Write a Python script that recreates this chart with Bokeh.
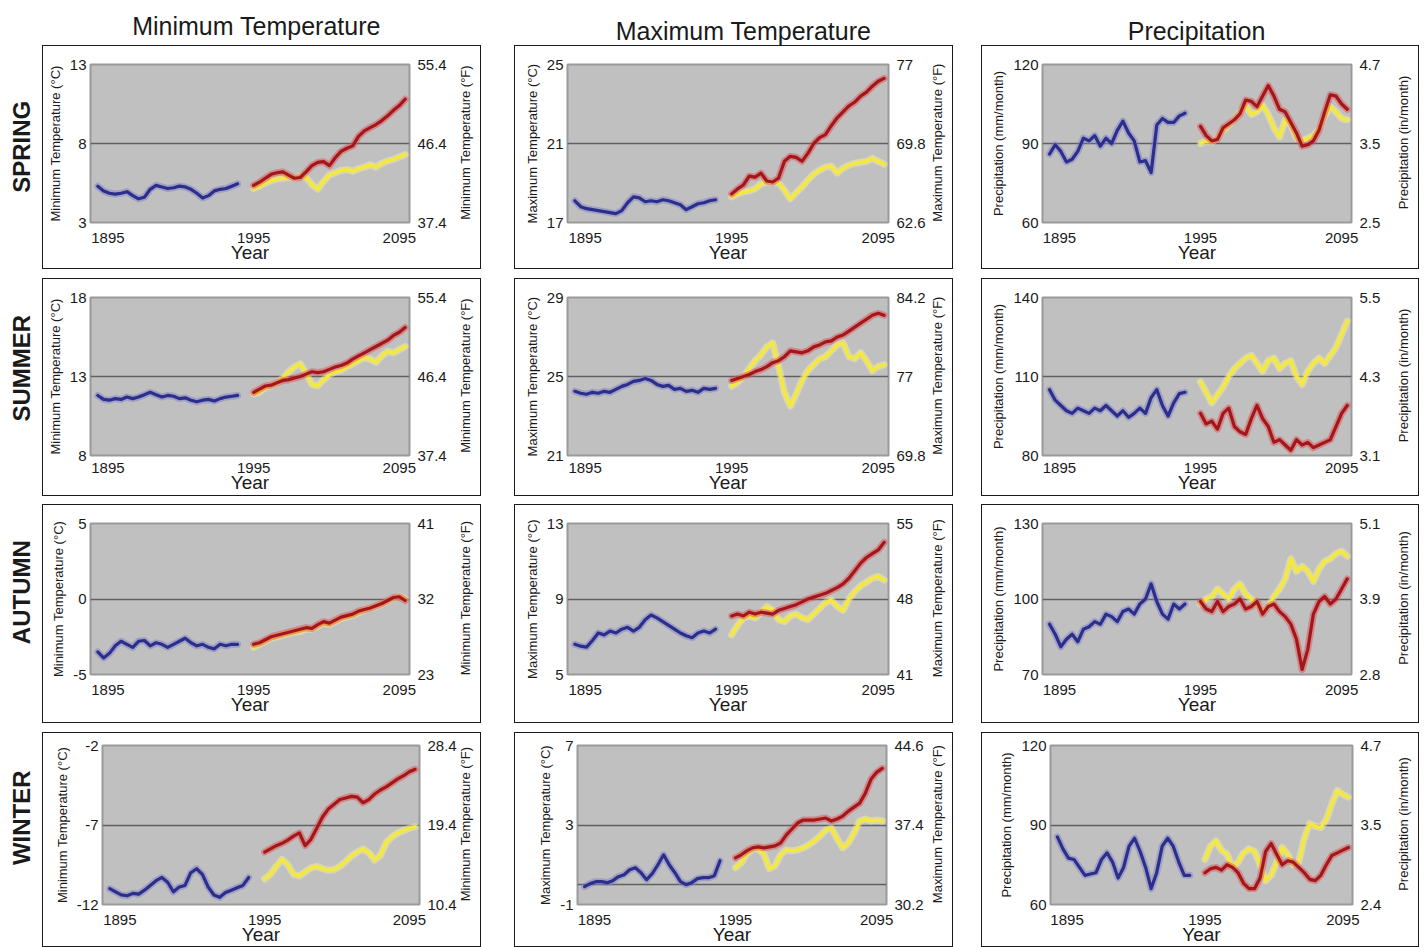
import math
from bokeh.plotting import figure
from bokeh.models import FixedTicker, Range1d, LinearAxis
from bokeh.layouts import row, column
from bokeh.embed import file_html
from bokeh.resources import INLINE
from bokeh.core.properties import value

# ---------------- data ----------------
seasons = ["SPRING", "SUMMER", "AUTUMN", "WINTER"]
variables = ["Minimum Temperature", "Maximum Temperature", "Precipitation"]
x_tick_years = [1895, 1995, 2095]
obs_years = list(range(1888, 1985, 4))
proj_years = list(range(1995, 2100, 4))

spring_tmin_hist = [5.3, 5.0, 4.85, 4.8, 4.85, 4.95, 4.7, 4.5, 4.6, 5.1, 5.35, 5.25, 5.15, 5.2, 5.3, 5.25, 5.1, 4.85, 4.55, 4.7, 5.0, 5.1, 5.15, 5.3, 5.45]
spring_tmin_high = [5.35, 5.55, 5.8, 6.05, 6.15, 6.2, 6.0, 5.8, 5.85, 6.2, 6.6, 6.8, 6.85, 6.6, 7.1, 7.5, 7.7, 7.85, 8.45, 8.8, 9.0, 9.2, 9.45, 9.75, 10.1, 10.4, 10.8]
spring_tmin_low = [5.15, 5.3, 5.5, 5.65, 5.75, 5.8, 5.9, 5.8, 5.95, 5.85, 5.4, 5.1, 5.6, 6.0, 6.15, 6.3, 6.35, 6.25, 6.4, 6.5, 6.65, 6.5, 6.75, 6.9, 7.0, 7.15, 7.3]

spring_tmax_hist = [18.1, 17.8, 17.7, 17.65, 17.6, 17.55, 17.5, 17.45, 17.6, 18.0, 18.3, 18.25, 18.05, 18.1, 18.05, 18.15, 18.1, 18.0, 17.9, 17.65, 17.8, 17.95, 18.0, 18.1, 18.15]
spring_tmax_high = [18.45, 18.7, 18.9, 19.35, 19.3, 19.5, 19.1, 19.05, 19.25, 20.1, 20.35, 20.3, 20.1, 20.5, 21.0, 21.3, 21.45, 21.9, 22.3, 22.6, 22.9, 23.1, 23.4, 23.6, 23.9, 24.15, 24.3]
spring_tmax_low = [18.3, 18.45, 18.55, 18.6, 18.7, 18.95, 19.05, 19.05, 19.0, 18.65, 18.2, 18.5, 18.8, 19.15, 19.45, 19.65, 19.8, 19.85, 19.5, 19.75, 19.9, 20.0, 20.05, 20.1, 20.25, 20.1, 19.95]

spring_prcp_hist = [86, 89.5, 87, 83, 84, 87, 92, 91, 93, 89, 92, 90, 95, 98.5, 94, 91, 83, 83.5, 79, 97, 99.5, 98, 98, 100.5, 101.5]
spring_prcp_high = [96.5, 93, 91, 91.5, 96, 97.5, 99, 101.3, 106.5, 106, 104, 108, 112, 108, 103, 102, 98, 94, 89, 89.5, 91, 95, 102, 108.5, 108, 105, 103]
spring_prcp_low = [90, 91, 90.5, 92, 95, 97, 99, 102, 104.5, 101, 102, 104.5, 101, 96, 92.5, 99, 97, 92, 91, 92, 93, 95.5, 100.5, 104, 102, 99.5, 99]

summer_tmin_hist = [11.8, 11.55, 11.5, 11.6, 11.55, 11.7, 11.6, 11.7, 11.85, 12.0, 11.85, 11.7, 11.8, 11.75, 11.6, 11.65, 11.5, 11.4, 11.5, 11.55, 11.45, 11.6, 11.7, 11.75, 11.8]
summer_tmin_high = [12.0, 12.2, 12.4, 12.45, 12.6, 12.75, 12.8, 12.9, 13.0, 13.15, 13.3, 13.25, 13.3, 13.45, 13.6, 13.7, 13.85, 14.1, 14.3, 14.5, 14.7, 14.9, 15.1, 15.3, 15.6, 15.8, 16.1]
summer_tmin_low = [11.9, 12.0, 12.3, 12.4, 12.6, 12.9, 13.3, 13.6, 13.8, 13.2, 12.5, 12.4, 12.8, 13.1, 13.3, 13.4, 13.6, 13.8, 14.0, 14.2, 14.1, 13.9, 14.3, 14.6, 14.5, 14.7, 14.9]

summer_tmax_hist = [24.25, 24.15, 24.1, 24.2, 24.15, 24.25, 24.2, 24.35, 24.5, 24.6, 24.75, 24.8, 24.9, 24.8, 24.6, 24.5, 24.55, 24.35, 24.4, 24.25, 24.3, 24.2, 24.4, 24.35, 24.4]
summer_tmax_high = [24.8, 24.9, 25.0, 25.1, 25.25, 25.35, 25.5, 25.7, 25.8, 26.0, 26.3, 26.25, 26.2, 26.3, 26.5, 26.6, 26.75, 26.8, 27.0, 27.1, 27.3, 27.5, 27.7, 27.9, 28.1, 28.2, 28.1]
summer_tmax_low = [24.5, 24.7, 25.0, 25.4, 25.8, 26.1, 26.5, 26.7, 25.5, 24.2, 23.5, 24.1, 24.8, 25.3, 25.6, 25.9, 26.0, 26.3, 26.6, 26.7, 26.0, 25.9, 26.2, 25.8, 25.3, 25.5, 25.6]

summer_prcp_hist = [105, 101, 99, 97, 96, 98, 97, 96, 98, 97, 99, 97, 95, 97, 94.5, 96, 98, 96, 102, 105, 99, 95, 100, 103.5, 104]
summer_prcp_high = [96, 92, 93, 90, 96, 98, 91, 89, 88, 94, 99, 94, 91, 85, 86, 84, 82, 86, 84, 85, 83, 84, 85, 86, 91, 96, 99]
summer_prcp_low = [108, 104, 100, 103, 106, 110, 113, 115, 117, 118, 115, 112, 116, 117, 113, 115, 116, 110, 107, 112, 115, 117, 115, 118, 121, 126, 131]

autumn_tmin_hist = [-3.5, -3.9, -3.6, -3.1, -2.8, -3.0, -3.2, -2.8, -2.75, -3.1, -2.9, -3.0, -3.2, -3.0, -2.8, -2.6, -2.9, -3.1, -3.0, -3.2, -3.3, -3.0, -3.1, -3.0, -3.0]
autumn_tmin_high = [-3.0, -2.9, -2.7, -2.5, -2.4, -2.3, -2.2, -2.1, -2.0, -1.9, -1.95, -1.7, -1.5, -1.6, -1.4, -1.2, -1.1, -1.0, -0.8, -0.7, -0.6, -0.45, -0.3, -0.1, 0.1, 0.15, -0.1]
autumn_tmin_low = [-3.2, -3.0, -2.8, -2.6, -2.5, -2.4, -2.3, -2.2, -2.15, -2.0, -2.0, -1.8, -1.6, -1.7, -1.5, -1.3, -1.2, -1.1, -0.9, -0.75, -0.6, -0.5, -0.35, -0.15, 0.05, 0.2, 0.0]

autumn_tmax_hist = [6.6, 6.5, 6.45, 6.8, 7.2, 7.1, 7.3, 7.2, 7.4, 7.5, 7.3, 7.5, 7.9, 8.15, 8.0, 7.8, 7.6, 7.4, 7.2, 7.05, 6.95, 7.2, 7.3, 7.2, 7.4]
autumn_tmax_high = [8.1, 8.2, 8.1, 8.3, 8.2, 8.3, 8.25, 8.2, 8.4, 8.5, 8.6, 8.7, 8.85, 9.0, 9.1, 9.2, 9.3, 9.45, 9.6, 9.8, 10.1, 10.5, 10.9, 11.2, 11.4, 11.6, 12.0]
autumn_tmax_low = [7.1, 7.6, 8.0, 8.1, 8.0, 8.3, 8.6, 8.4, 7.9, 7.8, 8.1, 8.2, 8.0, 7.9, 8.2, 8.5, 8.8, 8.95, 8.6, 8.4, 9.0, 9.4, 9.7, 9.9, 10.1, 10.2, 10.0]

autumn_prcp_hist = [90, 86, 81, 84, 86, 83, 88, 89, 91, 90, 94, 93, 91, 95, 96, 94, 98, 100, 106, 99, 94, 92, 98, 96, 98]
autumn_prcp_high = [99, 96, 95, 99, 95, 97, 98, 100, 96, 97, 99, 94, 97, 98, 95, 93, 90, 84, 72, 80, 94, 99, 101, 98, 100, 104, 108]
autumn_prcp_low = [98, 100, 101, 104, 102, 100, 104, 106, 102, 100, 98, 95, 97, 101, 104, 108, 116, 111, 113, 111, 107, 112, 115, 116, 118, 119, 117]

winter_tmin_hist = [-11.0, -11.2, -11.4, -11.45, -11.3, -11.35, -11.1, -10.8, -10.5, -10.3, -10.6, -11.2, -10.9, -10.8, -10.0, -9.75, -10.1, -10.9, -11.4, -11.55, -11.25, -11.1, -10.95, -10.8, -10.3]
winter_tmin_high = [-8.7, -8.5, -8.3, -8.15, -7.95, -7.7, -7.5, -8.3, -7.9, -7.2, -6.5, -6.0, -5.7, -5.4, -5.3, -5.2, -5.25, -5.6, -5.4, -5.05, -4.8, -4.6, -4.35, -4.1, -3.9, -3.65, -3.5]
winter_tmin_low = [-10.4, -10.1, -9.6, -9.15, -9.5, -10.1, -10.2, -9.95, -9.7, -9.6, -9.75, -9.85, -9.8, -9.6, -9.3, -8.95, -8.7, -8.5, -8.75, -9.2, -8.9, -8.1, -7.75, -7.5, -7.35, -7.2, -7.1]

winter_tmax_hist = [-0.1, 0.05, 0.15, 0.15, 0.1, 0.2, 0.4, 0.5, 0.75, 0.85, 0.6, 0.25, 0.55, 1.0, 1.5, 1.0, 0.6, 0.15, 0.0, 0.1, 0.3, 0.35, 0.35, 0.45, 1.2]
winter_tmax_high = [1.35, 1.5, 1.7, 1.85, 1.9, 1.85, 1.9, 1.95, 2.1, 2.5, 2.8, 3.1, 3.25, 3.25, 3.25, 3.3, 3.35, 3.2, 3.3, 3.45, 3.7, 3.9, 4.1, 4.6, 5.3, 5.65, 5.85]
winter_tmax_low = [0.85, 1.1, 1.55, 1.8, 1.8, 1.55, 0.8, 0.95, 1.5, 1.75, 1.7, 1.75, 1.85, 2.0, 2.2, 2.45, 2.75, 2.85, 2.3, 1.85, 2.1, 2.6, 3.2, 3.3, 3.2, 3.25, 3.2]

winter_prcp_hist = [85.5, 81, 77.5, 77, 74, 71, 71.5, 72, 77, 79.5, 76, 70, 74, 82, 85, 80, 74, 66, 72, 82, 85, 82, 76, 71, 71]
winter_prcp_high = [72, 73.5, 74, 73, 75, 74, 72, 68, 66, 66, 70, 80, 83, 79, 75, 76.5, 76, 74, 72, 69.5, 69, 71, 75, 78.5, 79.5, 80.5, 81.5]
winter_prcp_low = [77, 82, 84, 80.5, 79, 74, 76, 79.5, 81, 80, 75, 69, 71, 76, 81.5, 79, 75, 76, 85, 90.5, 89.5, 89, 92, 98, 103, 101.5, 100.5]

# axis ticks (left, metric) and right-axis labels (imperial)
left_ticks = [
    [[3, 8, 13], [17, 21, 25], [60, 90, 120]],
    [[8, 13, 18], [21, 25, 29], [80, 110, 140]],
    [[-5, 0, 5], [5, 9, 13], [70, 100, 130]],
    [[-12, -7, -2], [-1, 3, 7], [60, 90, 120]],
]
right_labels = [
    [["37.4", "46.4", "55.4"], ["62.6", "69.8", "77"], ["2.5", "3.5", "4.7"]],
    [["37.4", "46.4", "55.4"], ["69.8", "77", "84.2"], ["3.1", "4.3", "5.5"]],
    [["23", "32", "41"], ["41", "48", "55"], ["2.8", "3.9", "5.1"]],
    [["10.4", "19.4", "28.4"], ["30.2", "37.4", "44.6"], ["2.4", "3.5", "4.7"]],
]
ref_lines = [
    [[8], [21], [90]],
    [[13], [25], [110]],
    [[0], [9], [100]],
    [[-7], [3, 0], [90]],
]
left_titles = ["Minimum Temperature (°C)", "Maximum Temperature (°C)", "Precipitation (mm/month)"]
right_titles = ["Minimum Temperature (°F)", "Maximum Temperature (°F)", "Precipitation (in/month)"]

series = {
    (0, 0): (spring_tmin_hist, spring_tmin_high, spring_tmin_low),
    (0, 1): (spring_tmax_hist, spring_tmax_high, spring_tmax_low),
    (0, 2): (spring_prcp_hist, spring_prcp_high, spring_prcp_low),
    (1, 0): (summer_tmin_hist, summer_tmin_high, summer_tmin_low),
    (1, 1): (summer_tmax_hist, summer_tmax_high, summer_tmax_low),
    (1, 2): (summer_prcp_hist, summer_prcp_high, summer_prcp_low),
    (2, 0): (autumn_tmin_hist, autumn_tmin_high, autumn_tmin_low),
    (2, 1): (autumn_tmax_hist, autumn_tmax_high, autumn_tmax_low),
    (2, 2): (autumn_prcp_hist, autumn_prcp_high, autumn_prcp_low),
    (3, 0): (winter_tmin_hist, winter_tmin_high, winter_tmin_low),
    (3, 1): (winter_tmax_hist, winter_tmax_high, winter_tmax_low),
    (3, 2): (winter_prcp_hist, winter_prcp_high, winter_prcp_low),
}

# ---------------- layout / style ----------------
FONT = "Liberation Sans"
col_w = [439, 439, 438]
col_gap = [0, 33, 28]
row_h = [224, 218, 219, 215]
row_gap = [0, 9, 8, 9]
frame_lr = [
    [(48, 74), (53, 67), (61, 70)],
    [(48, 74), (53, 67), (61, 70)],
    [(48, 74), (53, 67), (61, 70)],
    [(60, 64), (63, 69), (69, 69)],
]
frame_tb = [(18, 48), (18, 42), (18, 50), (12, 44)]
x_lab_standoff = [10, 7, 10, 10]
RT_W = 27           # width of the overlay strip that carries the right-hand axis title
label_off = [118, 99, 101, 99]
title_x = [248, 735, 1188]
title_y = [20, 15, 15]

C_HIST, H_HIST = "#2c2e8c", "#7f80c8"
C_HIGH, H_HIGH = "#a3161c", "#e0504f"
C_LOW, H_LOW = "#f5e93a", "#f6f09a"


def draw_series(p, xs, ys, core, halo):
    p.line(xs, ys, line_color=halo, line_width=7, line_alpha=0.5, line_join="round", line_cap="round")
    p.line(xs, ys, line_color=core, line_width=3.2, line_join="round", line_cap="round")


def style_title_axis(ax, text):
    ax.axis_label = text
    ax.axis_label_text_font = FONT
    ax.axis_label_text_font_size = "13px"
    ax.axis_label_text_font_style = "normal"
    ax.axis_label_text_color = "#1a1a1a"


def make_panel(ri, ci):
    w, h = col_w[ci], row_h[ri]
    L, R = frame_lr[ri][ci]
    T, B = frame_tb[ri]
    ticks = left_ticks[ri][ci]
    p = figure(width=w, height=h,
               x_range=Range1d(1883, 2102), y_range=Range1d(ticks[0], ticks[-1]),
               output_backend="svg", toolbar_location=None, tools="",
               min_border_left=L - 1, min_border_right=R - 1,
               min_border_top=T - 1, min_border_bottom=B - 1,
               background_fill_color="#c0c0c0", border_fill_color="white",
               outline_line_color="#9a9a9a", outline_line_width=2,
               styles={"border": "1px solid #1a1a1a"},
               margin=(row_gap[ri], 0, 0, col_gap[ci]))
    p.xgrid.visible = False
    p.ygrid.ticker = FixedTicker(ticks=ref_lines[ri][ci])
    p.ygrid.grid_line_color = "#606060"
    p.ygrid.grid_line_width = 1.5

    xa = p.xaxis[0]
    xa.ticker = FixedTicker(ticks=x_tick_years)
    xa.axis_label = "Year"
    xa.axis_label_text_font = FONT
    xa.axis_label_text_font_size = "19px"
    xa.axis_label_text_font_style = "normal"
    xa.axis_label_text_color = "#1a1a1a"
    xa.axis_label_standoff = -4
    xa.major_label_standoff = x_lab_standoff[ri]

    ya = p.yaxis[0]
    ya.ticker = FixedTicker(ticks=ticks)
    ov = {}
    for t in ticks:
        ov[t] = str(t)
        ov[str(t)] = str(t)
    ya.major_label_overrides = ov
    style_title_axis(ya, left_titles[ci])
    ya.major_label_standoff = 4
    ya.axis_label_standoff = 4

    ra = LinearAxis(ticker=FixedTicker(ticks=ticks))
    ovr = {}
    for t, lab in zip(ticks, right_labels[ri][ci]):
        ovr[t] = lab
        ovr[str(t)] = lab
    ra.major_label_overrides = ovr
    ra.major_label_standoff = 8
    p.add_layout(ra, "right")

    for ax in (xa, ya, ra):
        ax.axis_line_color = None
        ax.major_tick_line_color = None
        ax.minor_tick_line_color = None
        ax.major_tick_out = 0
        ax.major_tick_in = 0
        ax.minor_tick_out = 0
        ax.minor_tick_in = 0
        ax.major_label_text_font = FONT
        ax.major_label_text_font_size = "15px"
        ax.major_label_text_color = "#1a1a1a"

    hist, high, low = series[(ri, ci)]
    draw_series(p, obs_years, hist, C_HIST, H_HIST)
    draw_series(p, proj_years, low, C_LOW, H_LOW)
    draw_series(p, proj_years, high, C_HIGH, H_HIGH)
    return p


def bare(width, height, margin=(0, 0, 0, 0)):
    f = figure(width=width, height=height, x_range=Range1d(0, width), y_range=Range1d(0, height),
               output_backend="svg", toolbar_location=None, tools="", min_border=0,
               title=None, x_axis_type=None, y_axis_type=None,
               outline_line_color=None, background_fill_color=None, border_fill_color=None,
               margin=margin)
    f.grid.visible = False
    return f


def right_title(ri, ci):
    # transparent strip laid over the right edge of the panel (negative left margin);
    # its own left axis carries the imperial-unit title, centred on the same frame height
    h = row_h[ri]
    T, B = frame_tb[ri]
    f = figure(width=RT_W, height=h, x_range=Range1d(0, 1), y_range=Range1d(0, 1),
               output_backend="svg", toolbar_location=None, tools="", title=None,
               x_axis_type=None, min_border_left=0, min_border_right=0,
               min_border_top=T, min_border_bottom=B,
               outline_line_color=None, background_fill_color=None, border_fill_color=None,
               margin=(row_gap[ri], 0, 0, -RT_W))
    f.grid.visible = False
    ax = f.yaxis[0]
    ax.ticker = FixedTicker(ticks=[])
    ax.axis_line_color = None
    ax.major_tick_line_color = None
    ax.minor_tick_line_color = None
    ax.major_tick_out = 0
    ax.major_tick_in = 0
    ax.minor_tick_out = 0
    ax.minor_tick_in = 0
    ax.major_label_standoff = 0
    ax.axis_label_standoff = 0
    style_title_axis(ax, right_titles[ci])
    return f


header = bare(1411, 37)
header.text(x=title_x, y=title_y, text=variables, text_font=value(FONT),
            text_font_size=value("25px"), text_color="#1a1a1a",
            text_align="center", text_baseline="middle")

rows = [header]
for ri, season in enumerate(seasons):
    lab = bare(34, row_h[ri], (row_gap[ri], 0, 0, 0))
    lab.text(x=[13], y=[row_h[ri] - label_off[ri]], text=[season], angle=math.pi / 2,
             text_font=value(FONT), text_font_size=value("24px"), text_font_style="bold",
             text_color="#1a1a1a", text_align="center", text_baseline="middle")
    items = [lab]
    for ci in range(3):
        items.append(make_panel(ri, ci))
        items.append(right_title(ri, ci))
    rows.append(row(*items))

layout = column(*rows, margin=(8, 0, 0, 8))
open("out.html", "w").write(file_html(layout, INLINE))
